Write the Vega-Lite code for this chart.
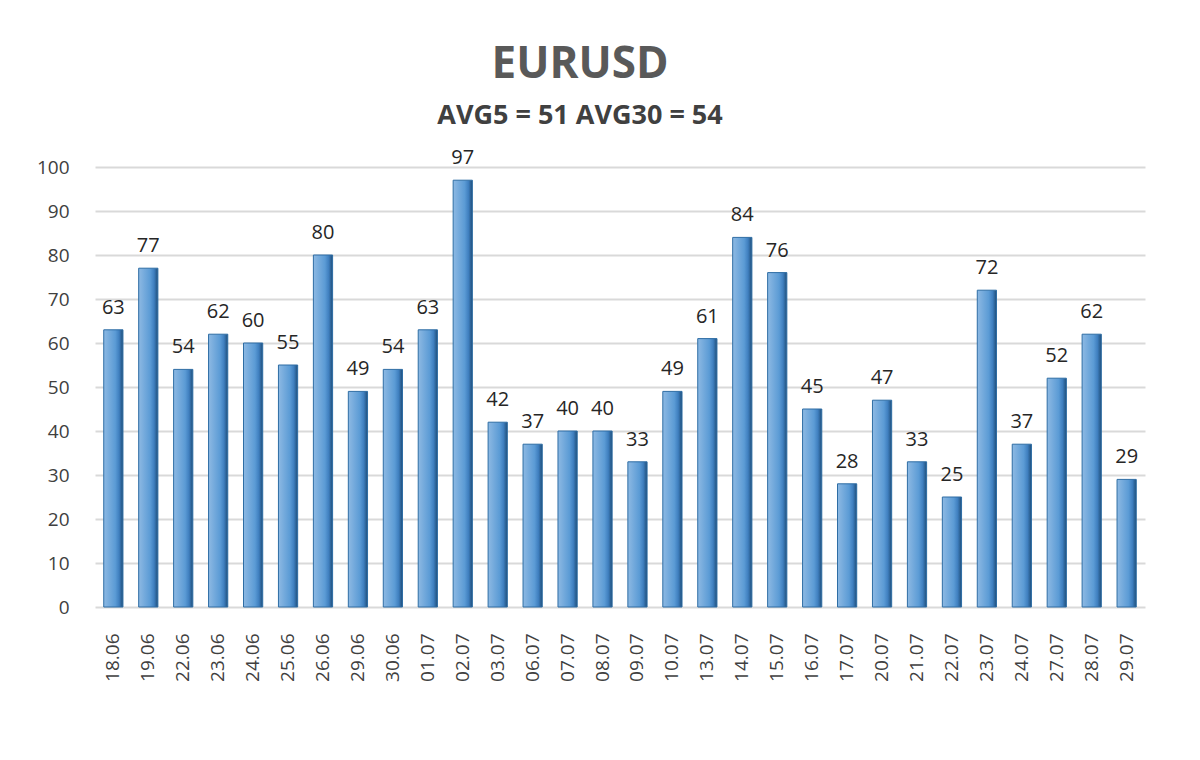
{
  "$schema": "https://vega.github.io/schema/vega-lite/v6.json",
  "autosize": "none",
  "width": 1050,
  "height": 440,
  "padding": {"left": 95, "top": 167, "right": 55, "bottom": 153},
  "background": "white",
  "data": {
    "values": [
      {"Date": "18.06", "Pips": 63}, {"Date": "19.06", "Pips": 77},
      {"Date": "22.06", "Pips": 54}, {"Date": "23.06", "Pips": 62},
      {"Date": "24.06", "Pips": 60}, {"Date": "25.06", "Pips": 55},
      {"Date": "26.06", "Pips": 80}, {"Date": "29.06", "Pips": 49},
      {"Date": "30.06", "Pips": 54}, {"Date": "01.07", "Pips": 63},
      {"Date": "02.07", "Pips": 97}, {"Date": "03.07", "Pips": 42},
      {"Date": "06.07", "Pips": 37}, {"Date": "07.07", "Pips": 40},
      {"Date": "08.07", "Pips": 40}, {"Date": "09.07", "Pips": 33},
      {"Date": "10.07", "Pips": 49}, {"Date": "13.07", "Pips": 61},
      {"Date": "14.07", "Pips": 84}, {"Date": "15.07", "Pips": 76},
      {"Date": "16.07", "Pips": 45}, {"Date": "17.07", "Pips": 28},
      {"Date": "20.07", "Pips": 47}, {"Date": "21.07", "Pips": 33},
      {"Date": "22.07", "Pips": 25}, {"Date": "23.07", "Pips": 72},
      {"Date": "24.07", "Pips": 37}, {"Date": "27.07", "Pips": 52},
      {"Date": "28.07", "Pips": 62}, {"Date": "29.07", "Pips": 29}
    ]
  },
  "title": {
    "text": "EURUSD",
    "subtitle": "AVG5 = 51 AVG30 = 54",
    "anchor": "middle",
    "dx": -40,
    "offset": 19,
    "font": "Open Sans",
    "fontSize": 44,
    "fontWeight": "bold",
    "color": "#595959",
    "subtitleFont": "Open Sans",
    "subtitleFontSize": 27,
    "subtitleFontWeight": "bold",
    "subtitleColor": "#404040",
    "subtitlePadding": 16
  },
  "encoding": {
    "x": {
      "field": "Date",
      "type": "ordinal",
      "sort": null,
      "title": null,
      "scale": {"paddingInner": 0.45, "paddingOuter": 0.25},
      "axis": {
        "labelAngle": -90,
        "labelFont": "Open Sans",
        "labelFontSize": 19,
        "labelColor": "#404040",
        "labelPadding": 26,
        "ticks": false,
        "domain": false
      }
    },
    "y": {
      "field": "Pips",
      "type": "quantitative",
      "title": null,
      "scale": {"domain": [0, 100]},
      "axis": {
        "values": [0, 10, 20, 30, 40, 50, 60, 70, 80, 90, 100],
        "labelFont": "Open Sans",
        "labelFontSize": 19,
        "labelColor": "#404040",
        "labelPadding": 26,
        "ticks": false,
        "domain": false,
        "gridColor": "#d9d9d9",
        "gridWidth": 2
      }
    }
  },
  "layer": [
    {
      "mark": {
        "type": "bar",
        "stroke": "#2e6da4",
        "strokeWidth": 1,
        "color": {
          "gradient": "linear",
          "x1": 0, "x2": 1, "y1": 0, "y2": 0,
          "stops": [
            {"offset": 0, "color": "#8db9e3"},
            {"offset": 0.6, "color": "#5b9bd5"},
            {"offset": 0.8, "color": "#3f7fbf"},
            {"offset": 1, "color": "#1f4e79"}
          ]
        }
      }
    },
    {
      "mark": {
        "type": "text",
        "baseline": "alphabetic",
        "dy": -16,
        "font": "Open Sans",
        "fontSize": 20,
        "color": "#262626"
      },
      "encoding": {"text": {"field": "Pips", "type": "quantitative"}}
    }
  ],
  "config": {"view": {"stroke": null}}
}
